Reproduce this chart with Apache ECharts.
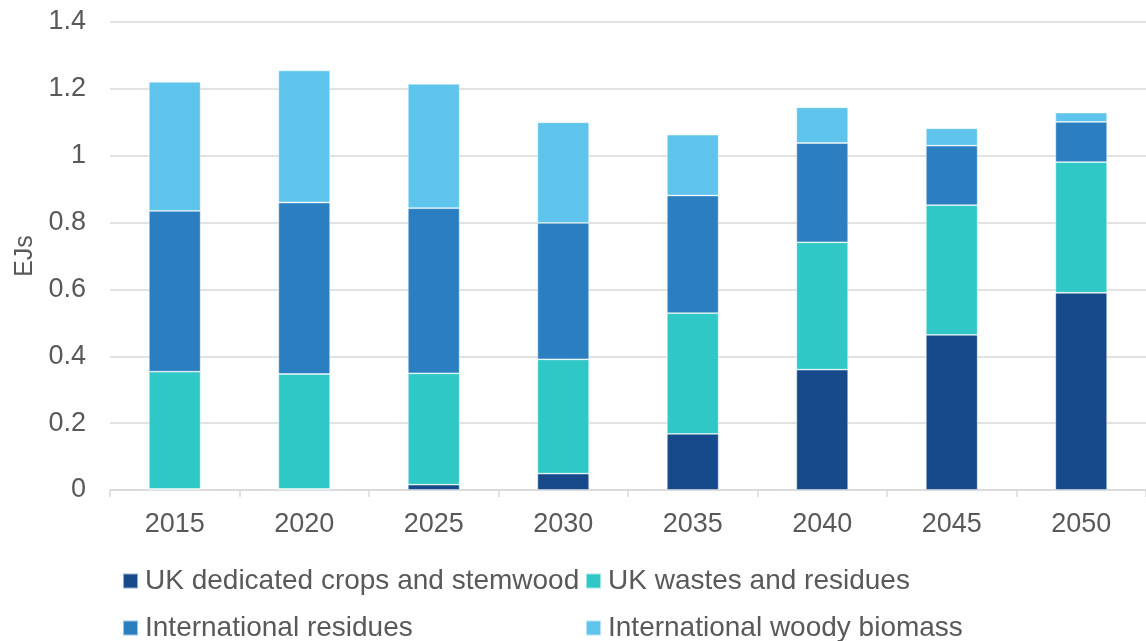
<!DOCTYPE html>
<html>
<head>
<meta charset="utf-8">
<script src="https://cdn.jsdelivr.net/npm/echarts@6/dist/echarts.min.js"></script>
<style>
  html, body { margin: 0; padding: 0; background: #fff; }
  #chart { width: 1146px; height: 641px; }
</style>
</head>
<body>
<div id="chart"></div>
<script>
// Bioenergy supply by source, EJ
const years = ['2015', '2020', '2025', '2030', '2035', '2040', '2045', '2050'];
const ukCrops = [0.003, 0.003, 0.016, 0.049, 0.168, 0.360, 0.464, 0.590];
const ukWastes = [0.351, 0.344, 0.333, 0.342, 0.361, 0.381, 0.388, 0.391];
const intlResidues = [0.481, 0.513, 0.494, 0.408, 0.352, 0.297, 0.178, 0.120];
const intlWoody = [0.386, 0.395, 0.372, 0.301, 0.182, 0.107, 0.052, 0.028];
const yTicks = [0, 0.2, 0.4, 0.6, 0.8, 1, 1.2, 1.4];

const seriesNames = [
  'UK dedicated crops and stemwood',
  'UK wastes and residues',
  'International residues',
  'International woody biomass'
];
const colors = ['#174A8A', '#30C8C6', '#2B7FC0', '#5EC4EC'];
const txt = '#595959';
const font = '"Liberation Sans", Arial, sans-serif';
const fs = 27;
const legendFs = 28;

const chart = echarts.init(document.getElementById('chart'));

function bar(name, data, color) {
  return {
    name: name,
    type: 'bar',
    stack: 'total',
    barWidth: '40%',
    data: data,
    itemStyle: { color: color, borderColor: 'rgba(255,255,255,0.55)', borderWidth: 0.8 },
    emphasis: { disabled: true }
  };
}

// one legend entry per block so the two columns line up
function legendItem(left, top, name) {
  return {
    left: left,
    top: top,
    padding: 0,
    itemWidth: 15,
    itemHeight: 15,
    icon: 'rect',
    data: [name],
    selectedMode: false,
    textStyle: { color: txt, fontSize: legendFs, fontFamily: font, padding: [0, 0, 0, 2] }
  };
}

chart.setOption({
  animation: false,
  color: colors,
  textStyle: { fontFamily: font },
  grid: { left: 110, right: 0, top: 22, bottom: 151, containLabel: false },
  legend: [
    legendItem(122, 567, seriesNames[0]),
    legendItem(585, 567, seriesNames[1]),
    legendItem(122, 614, seriesNames[2]),
    legendItem(585, 614, seriesNames[3])
  ],
  xAxis: {
    type: 'category',
    data: years,
    boundaryGap: true,
    axisLine: { lineStyle: { color: '#d9d9d9', width: 1.5 } },
    axisTick: { show: true, length: 7, lineStyle: { color: '#d9d9d9', width: 1.5 } },
    axisLabel: { color: txt, fontSize: fs, margin: 21, fontFamily: font }
  },
  yAxis: {
    type: 'value',
    min: 0,
    max: 1.4,
    interval: 0.2,
    name: 'EJs',
    nameLocation: 'middle',
    nameGap: 66,
    nameTextStyle: { color: txt, fontSize: fs - 2, fontFamily: font },
    axisLine: { show: false },
    axisTick: { show: false },
    axisLabel: {
      color: txt,
      fontSize: fs,
      margin: 24,
      fontFamily: font,
      formatter: function (v) {
        const t = yTicks.find(function (k) { return Math.abs(k - v) < 1e-9; });
        return t === undefined ? '' : String(t);
      }
    },
    splitLine: { lineStyle: { color: '#d9d9d9', width: 1.5 } }
  },
  series: [
    bar(seriesNames[0], ukCrops, colors[0]),
    bar(seriesNames[1], ukWastes, colors[1]),
    bar(seriesNames[2], intlResidues, colors[2]),
    bar(seriesNames[3], intlWoody, colors[3])
  ]
});
</script>
</body>
</html>
